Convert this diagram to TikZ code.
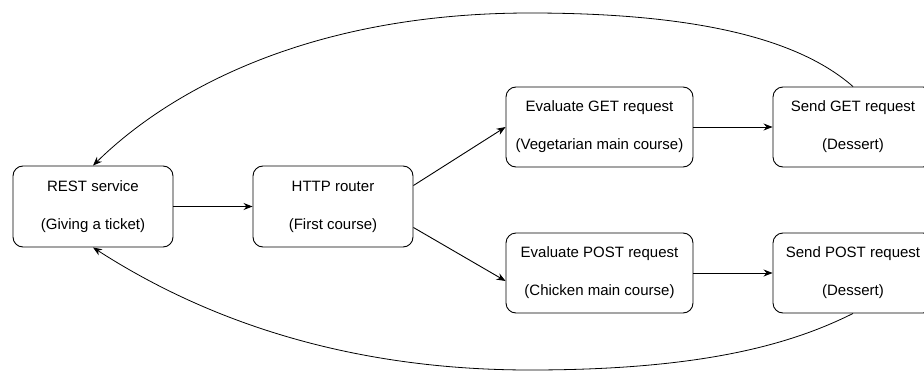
\documentclass[tikz,border=0pt]{standalone}
\usepackage{fontspec}
\setmainfont{Liberation Sans}
\usetikzlibrary{arrows.meta}
\begin{document}
\begin{tikzpicture}[x=1pt,y=1pt,
  box/.style={draw, line width=0.9pt, rounded corners=10pt, align=center, font=\fontsize{15}{18}\selectfont, inner sep=0pt},
  smallbox/.style={box, minimum width=160pt, minimum height=81pt},
  widebox/.style={box, minimum width=187pt, minimum height=80pt},
  conn/.style={line width=0.9pt, -{Stealth[length=9pt,width=7pt]}},
  curve/.style={line width=0.8pt, -{Stealth[length=9pt,width=7pt]}}]
\useasboundingbox (0,0) rectangle (924,-372);
\fill[white] (0,0) rectangle (924,-372);
\node[smallbox] (rest) at (93,-206.5) {REST service\\[20pt](Giving a ticket)};
\node[smallbox] (http) at (333,-206.5) {HTTP router\\[20pt](First course)};
\node[widebox] (eget) at (599.5,-127) {Evaluate GET request\\[20pt](Vegetarian main course)};
\node[widebox] (epost) at (599.5,-273) {Evaluate POST request\\[20pt](Chicken main course)};
\node[smallbox, minimum height=80pt] (sget) at (853,-127) {Send GET request\\[20pt](Dessert)};
\node[smallbox, minimum height=80pt] (spost) at (853,-273) {Send POST request\\[20pt](Dessert)};
\draw[conn] (rest) -- (http);
\draw[conn] ([yshift=21pt]http.east) -- (eget.west);
\draw[conn] ([yshift=-21pt]http.east) -- ([yshift=-8pt]epost.west);
\draw[conn] (eget) -- (sget);
\draw[conn] (epost) -- (spost);
\draw[curve] (sget.north) .. controls (800,-40) and (700,-13) .. (530,-13)
  .. controls (310,-13) and (170,-90) .. (rest.north);
\draw[curve] (spost.south) .. controls (790,-345) and (700,-370) .. (530,-370)
  .. controls (330,-370) and (190,-310) .. (rest.south);
\end{tikzpicture}
\end{document}
